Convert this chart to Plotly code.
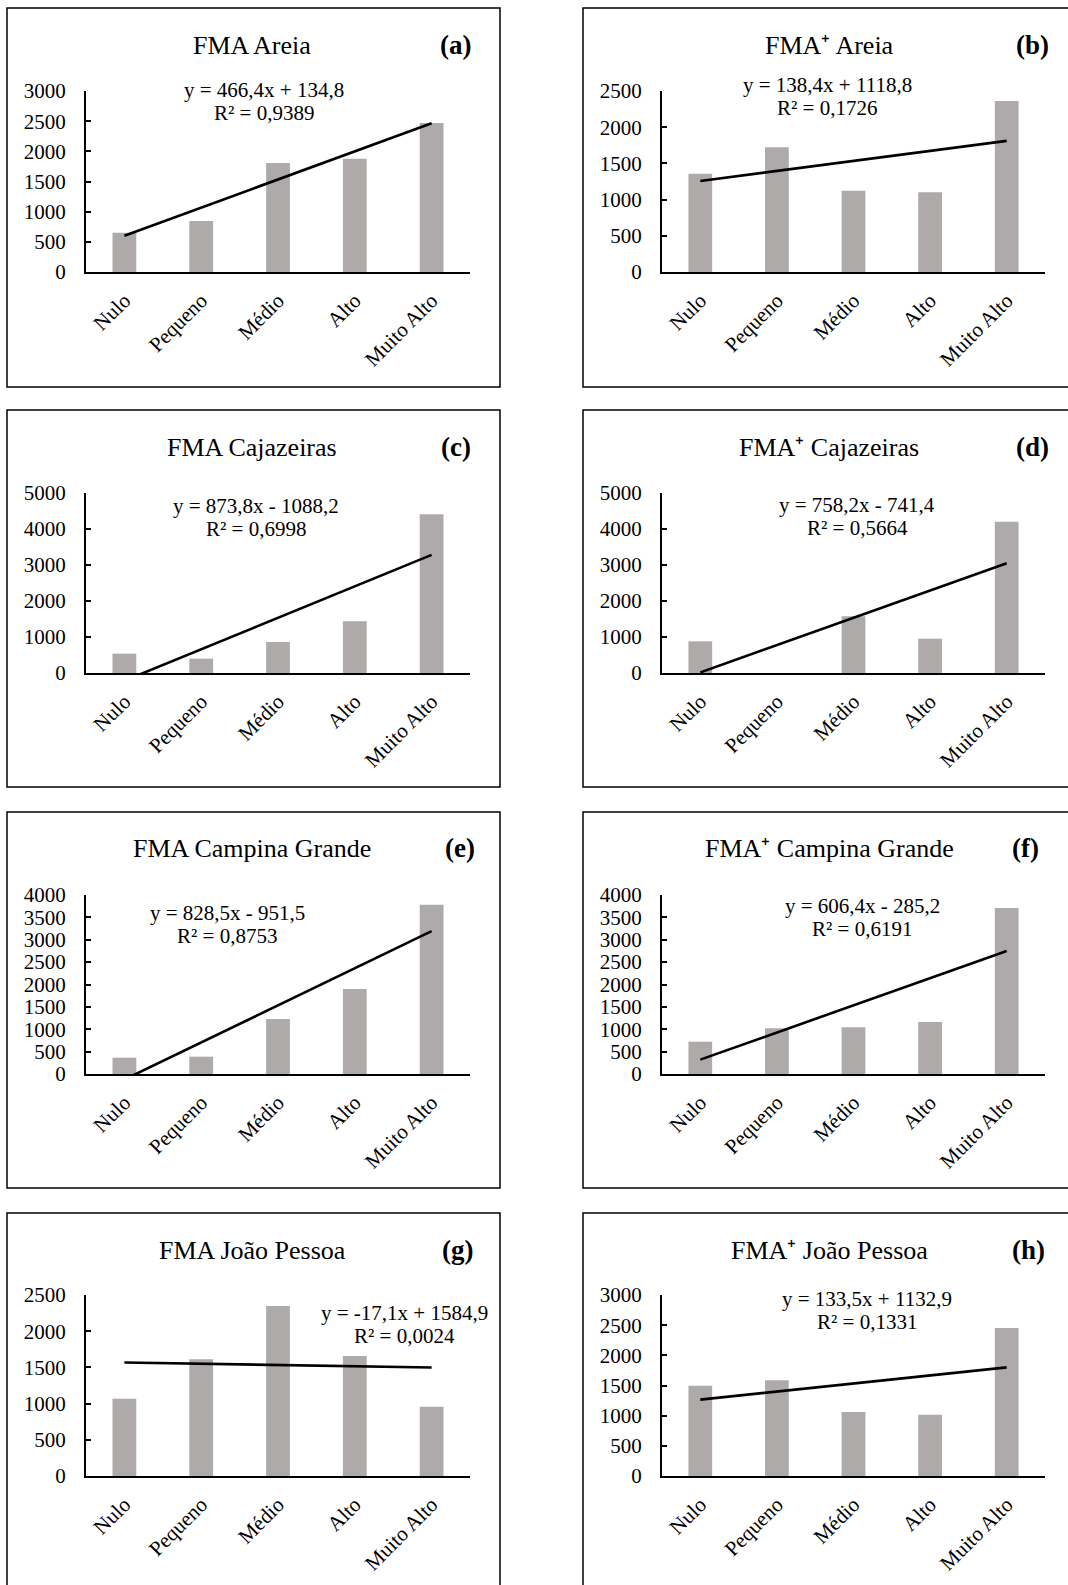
import plotly.graph_objects as go

categories = ["Nulo", "Pequeno", "Médio", "Alto", "Muito Alto"]

fma_areia = [652, 845, 1807, 1878, 2470]
fmap_areia = [1358, 1722, 1123, 1100, 2362]
fma_cajazeiras = [537, 398, 861, 1435, 4407]
fmap_cajazeiras = [880, 0, 1574, 954, 4204]
fma_campina = [365, 387, 1229, 1899, 3784]
fmap_campina = [722, 1020, 1043, 1162, 3709]
fma_joao = [1068, 1611, 2348, 1657, 958]
fmap_joao = [1497, 1586, 1059, 1015, 2451]

titles = ["FMA Areia", "FMA⁺ Areia",
          "FMA Cajazeiras", "FMA⁺ Cajazeiras",
          "FMA Campina Grande", "FMA⁺ Campina Grande",
          "FMA João Pessoa", "FMA⁺ João Pessoa"]
letters = ["(a)", "(b)", "(c)", "(d)", "(e)", "(f)", "(g)", "(h)"]
slopes = [466.4, 138.4, 873.8, 758.2, 828.5, 606.4, -17.1, 133.5]
intercepts = [134.8, 1118.8, -1088.2, -741.4, -951.5, -285.2, 1584.9, 1132.9]
r2_values = [0.9389, 0.1726, 0.6998, 0.5664, 0.8753, 0.6191, 0.0024, 0.1331]
y_max = [3000, 2500, 5000, 5000, 4000, 4000, 2500, 3000]
y_step = [500, 500, 1000, 1000, 500, 500, 500, 500]

series = [fma_areia, fmap_areia, fma_cajazeiras, fmap_cajazeiras,
          fma_campina, fmap_campina, fma_joao, fmap_joao]

W, H = 1068, 1585
FONT = "Liberation Serif, Times New Roman, serif"
BAR_COLOR = "#AEAAAA"

# layout geometry (pixels)
plot_x = [(86, 470), (662, 1045)]
plot_y = [(91, 272), (493, 673), (895, 1074), (1295, 1476)]
box_x = [(7, 500), (583, 1080)]
box_y = [(8, 387), (410, 787), (812, 1188), (1213, 1600)]
title_cx = [252, 829]
title_cy = [45, 447, 848, 1250]
letter_cx = [[455, 1032], [456, 1032], [460, 1025], [457, 1028]]
eq_pos = [(264, 90), (827, 85), (256, 506), (857, 505),
          (227, 913), (862, 906), (404, 1313), (867, 1299)]
eq_gap = 23


def px(x):
    return x / W


def py(y):
    return 1 - y / H


def fmt(v):
    return f"{abs(v):.1f}".replace(".", ",")


fig = go.Figure()
annotations = []
shapes = []

for i in range(8):
    row, col = divmod(i, 2)
    n = i + 1
    xa = "x" if n == 1 else f"x{n}"
    ya = "y" if n == 1 else f"y{n}"
    vals = series[i]
    fig.add_trace(go.Bar(x=categories, y=vals, marker_color=BAR_COLOR,
                         marker_line_width=0, xaxis=xa, yaxis=ya,
                         showlegend=False))
    trend = [slopes[i] * (k + 1) + intercepts[i] for k in range(len(categories))]
    fig.add_trace(go.Scatter(x=categories, y=trend, mode="lines",
                             line=dict(color="black", width=2.6),
                             xaxis=xa, yaxis=ya, showlegend=False))

    xkey = "xaxis" if n == 1 else f"xaxis{n}"
    ykey = "yaxis" if n == 1 else f"yaxis{n}"
    x0, x1 = plot_x[col]
    y0, y1 = plot_y[row]
    fig.update_layout(**{
        xkey: dict(domain=[px(x0), px(x1)], anchor=ya, type="category",
                   range=[-0.5, 4.5], showline=True, linecolor="black",
                   linewidth=2, ticks="", tickangle=-45, automargin=False,
                   tickfont=dict(family=FONT, size=21, color="black"),
                   showgrid=False, zeroline=False, fixedrange=True,
                   ticklabelstandoff=6),
        ykey: dict(domain=[py(y1), py(y0)], anchor=xa, automargin=False,
                   range=[0, y_max[i]], dtick=y_step[i], tick0=0,
                   showline=True, linecolor="black", linewidth=2,
                   ticks="inside", ticklen=5, tickwidth=2, tickcolor="black",
                   tickfont=dict(family=FONT, size=21, color="black"),
                   showgrid=False, zeroline=False, fixedrange=True,
                   ticklabelstandoff=14),
    })

    bx0, bx1 = box_x[col]
    by0, by1 = box_y[row]
    shapes.append(dict(type="rect", xref="paper", yref="paper",
                       x0=px(bx0), x1=px(bx1), y0=py(by1), y1=py(by0),
                       line=dict(color="black", width=1.5)))

    annotations.append(dict(text=titles[i], xref="paper", yref="paper",
                            x=px(title_cx[col]), y=py(title_cy[row]),
                            xanchor="center", yanchor="middle", showarrow=False,
                            font=dict(family=FONT, size=26, color="black")))
    annotations.append(dict(text="<b>" + letters[i] + "</b>", xref="paper", yref="paper",
                            x=px(letter_cx[row][col]), y=py(title_cy[row]),
                            xanchor="center", yanchor="middle", showarrow=False,
                            font=dict(family=FONT, size=27, color="black")))

    sign = "+" if intercepts[i] >= 0 else "-"
    sl = ("-" if slopes[i] < 0 else "") + fmt(slopes[i])
    eq = f"y = {sl}x {sign} {fmt(intercepts[i])}"
    r2 = "R² = " + f"{r2_values[i]:.4f}".replace(".", ",")
    ex, ey = eq_pos[i]
    annotations.append(dict(text=eq, xref="paper", yref="paper",
                            x=px(ex), y=py(ey), xanchor="center", yanchor="middle",
                            showarrow=False,
                            font=dict(family=FONT, size=21, color="black")))
    annotations.append(dict(text=r2, xref="paper", yref="paper",
                            x=px(ex), y=py(ey + eq_gap), xanchor="center",
                            yanchor="middle", showarrow=False,
                            font=dict(family=FONT, size=21, color="black")))

fig.update_layout(width=W, height=H,
                  margin=dict(l=0, r=0, t=0, b=0, pad=0, autoexpand=False),
                  paper_bgcolor="white", plot_bgcolor="white",
                  bargap=0.69, annotations=annotations, shapes=shapes,
                  showlegend=False)

fig.write_html("out.html", config={"displayModeBar": False})
